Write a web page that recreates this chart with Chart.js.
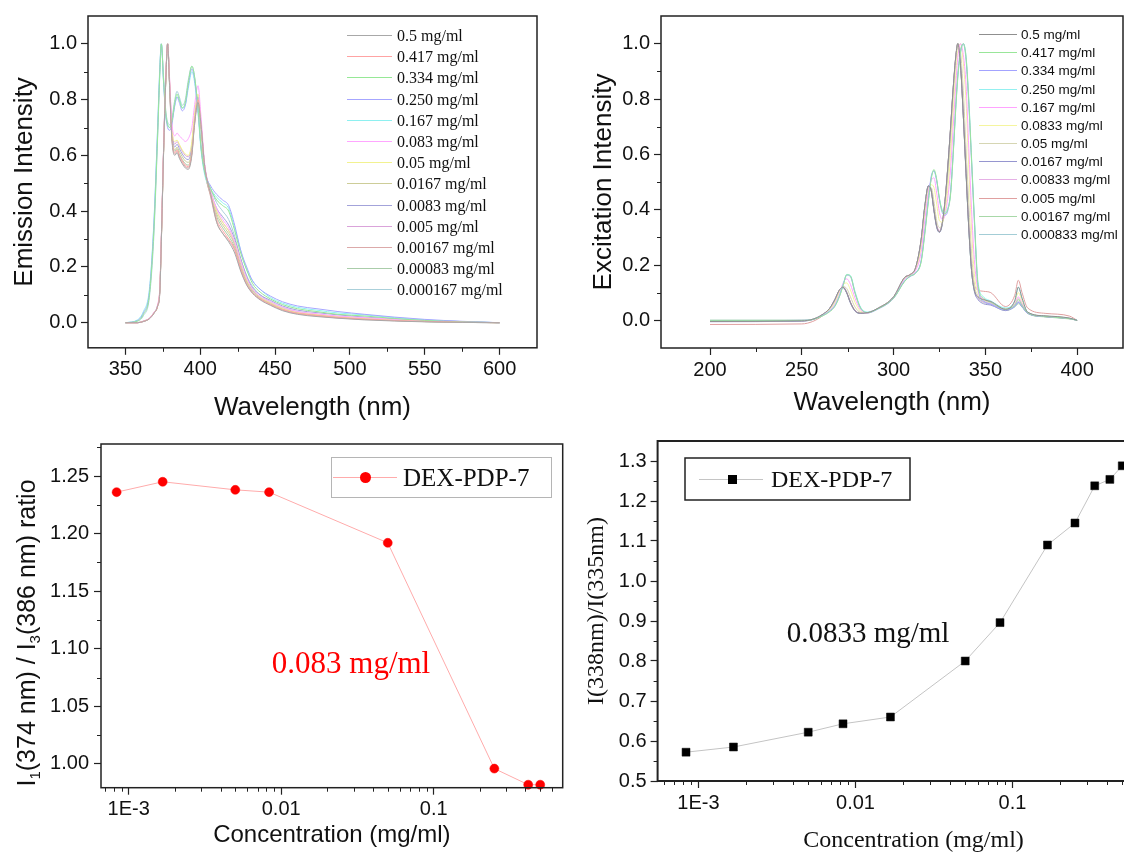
<!DOCTYPE html>
<html>
<head>
<meta charset="utf-8">
<title>Pyrene probe spectra - DEX-PDP-7</title>
<script src="https://cdn.jsdelivr.net/npm/chart.js@4.4.1/dist/chart.umd.min.js"></script>
<style>
    html, body { margin: 0; padding: 0; background: #fff; }
    body { width: 1124px; height: 855px; overflow: hidden; position: relative; }
    canvas { position: absolute; }
</style>
</head>
<body>
<canvas id="emission-chart" width="560" height="430" style="left:0;top:0"></canvas>
<canvas id="excitation-chart" width="564" height="430" style="left:560px;top:0"></canvas>
<canvas id="i1i3-chart" width="575" height="430" style="left:0;top:425px"></canvas>
<canvas id="exratio-chart" width="605" height="440" style="left:575px;top:425px"></canvas>
<script>
const SANS = '"Liberation Sans", Arial, sans-serif';
const SERIF = '"Liberation Serif", "Times New Roman", serif';
const INK = '#111';

// ---------- emission spectra (top left) ----------
const emWl = [350, 358, 362, 366, 369, 371.5, 373, 374, 375.5, 377, 378.2, 379.5, 381, 383, 384.5, 386, 388, 390, 392, 394.4,
              396, 398.5, 400.5, 403, 407, 411, 415, 419, 423, 427, 431, 435, 440, 447, 455, 465, 478, 492, 510, 530, 550, 575, 600];
const emLabels = ['0.5 mg/ml', '0.417 mg/ml', '0.334 mg/ml', '0.250 mg/ml', '0.167 mg/ml', '0.083 mg/ml', '0.05 mg/ml',
                  '0.0167 mg/ml', '0.0083 mg/ml', '0.005 mg/ml', '0.00167 mg/ml', '0.00083 mg/ml', '0.000167 mg/ml'];
const em_0_5 = [0, 0, 0.004, 0.014, 0.033, 0.06, 0.11, 0.29, 0.61, 0.87, 1.00, 0.85, 0.66, 0.60, 0.61, 0.59, 0.57, 0.555, 0.55, 0.60,
                0.70, 0.79, 0.71, 0.56, 0.46, 0.36, 0.32, 0.29, 0.25, 0.185, 0.135, 0.105, 0.082, 0.062, 0.043, 0.03, 0.022, 0.016, 0.01, 0.006, 0.003, 0.001, 0];
const em_0_417 = [0, 0, 0.005, 0.015, 0.035, 0.06, 0.12, 0.30, 0.62, 0.88, 1.00, 0.86, 0.67, 0.61, 0.62, 0.60, 0.58, 0.565, 0.56, 0.61,
                  0.71, 0.80, 0.71, 0.56, 0.46, 0.37, 0.33, 0.30, 0.265, 0.195, 0.14, 0.108, 0.086, 0.066, 0.047, 0.034, 0.026, 0.019, 0.013, 0.008, 0.005, 0.002, 0];
const em_0_334 = [0, 0.006, 0.03, 0.10, 0.33, 0.67, 0.90, 1.00, 0.87, 0.75, 0.71, 0.70, 0.72, 0.79, 0.82, 0.80, 0.77, 0.79, 0.86, 0.92,
                  0.89, 0.77, 0.63, 0.54, 0.48, 0.44, 0.42, 0.40, 0.33, 0.25, 0.19, 0.14, 0.11, 0.085, 0.065, 0.05, 0.04, 0.03, 0.024, 0.015, 0.008, 0.003, 0];
const em_0_250 = [0, 0.008, 0.035, 0.11, 0.35, 0.69, 0.91, 1.00, 0.86, 0.74, 0.70, 0.69, 0.71, 0.78, 0.81, 0.79, 0.76, 0.78, 0.85, 0.91,
                  0.88, 0.76, 0.63, 0.54, 0.49, 0.46, 0.44, 0.42, 0.35, 0.26, 0.20, 0.15, 0.12, 0.095, 0.075, 0.06, 0.05, 0.04, 0.03, 0.02, 0.012, 0.005, 0];
const em_0_167 = [0, 0.01, 0.04, 0.12, 0.36, 0.70, 0.92, 1.00, 0.86, 0.74, 0.71, 0.70, 0.72, 0.78, 0.81, 0.80, 0.77, 0.78, 0.84, 0.90,
                  0.87, 0.75, 0.62, 0.53, 0.48, 0.45, 0.43, 0.41, 0.34, 0.26, 0.19, 0.15, 0.12, 0.09, 0.07, 0.055, 0.045, 0.035, 0.028, 0.018, 0.01, 0.004, 0];
const em_0_083 = [0, 0, 0.005, 0.016, 0.036, 0.065, 0.13, 0.31, 0.63, 0.89, 1.00, 0.88, 0.72, 0.67, 0.68, 0.67, 0.66, 0.65, 0.66, 0.70,
                  0.77, 0.85, 0.74, 0.57, 0.47, 0.41, 0.37, 0.34, 0.29, 0.22, 0.16, 0.12, 0.095, 0.075, 0.055, 0.04, 0.032, 0.024, 0.018, 0.012, 0.007, 0.003, 0];
const em_0_05 = [0, 0, 0.005, 0.015, 0.035, 0.062, 0.125, 0.30, 0.62, 0.88, 1.00, 0.87, 0.70, 0.65, 0.655, 0.64, 0.62, 0.605, 0.60, 0.65,
                 0.74, 0.82, 0.72, 0.56, 0.47, 0.40, 0.36, 0.33, 0.29, 0.22, 0.155, 0.12, 0.092, 0.072, 0.052, 0.038, 0.03, 0.022, 0.016, 0.01, 0.006, 0.002, 0];
const em_0_0167 = [0, 0, 0.005, 0.015, 0.034, 0.06, 0.12, 0.29, 0.61, 0.87, 1.00, 0.86, 0.68, 0.62, 0.63, 0.615, 0.595, 0.58, 0.575, 0.62,
                   0.72, 0.80, 0.70, 0.55, 0.46, 0.39, 0.35, 0.32, 0.28, 0.21, 0.15, 0.115, 0.09, 0.07, 0.05, 0.036, 0.028, 0.02, 0.015, 0.01, 0.006, 0.002, 0];
const em_0_0083 = [0, 0, 0.006, 0.016, 0.036, 0.062, 0.12, 0.30, 0.62, 0.88, 1.00, 0.86, 0.69, 0.63, 0.64, 0.625, 0.605, 0.59, 0.585, 0.63,
                   0.72, 0.81, 0.71, 0.56, 0.47, 0.41, 0.38, 0.35, 0.30, 0.23, 0.165, 0.125, 0.10, 0.08, 0.06, 0.045, 0.036, 0.028, 0.02, 0.014, 0.009, 0.004, 0];
const em_0_005 = [0, 0, 0.005, 0.015, 0.035, 0.06, 0.12, 0.30, 0.62, 0.88, 1.00, 0.87, 0.70, 0.64, 0.65, 0.635, 0.615, 0.60, 0.595, 0.64,
                  0.73, 0.81, 0.71, 0.56, 0.46, 0.40, 0.36, 0.33, 0.285, 0.215, 0.155, 0.118, 0.092, 0.072, 0.052, 0.038, 0.03, 0.022, 0.016, 0.01, 0.006, 0.002, 0];
const em_0_00167 = [0, 0, 0.004, 0.014, 0.033, 0.058, 0.11, 0.29, 0.61, 0.87, 1.00, 0.85, 0.665, 0.605, 0.615, 0.595, 0.575, 0.56, 0.555, 0.605,
                    0.70, 0.79, 0.70, 0.55, 0.45, 0.36, 0.32, 0.295, 0.26, 0.19, 0.138, 0.106, 0.084, 0.064, 0.045, 0.032, 0.024, 0.017, 0.012, 0.007, 0.004, 0.001, 0];
const em_0_00083 = [0, 0, 0.005, 0.015, 0.034, 0.06, 0.115, 0.295, 0.615, 0.875, 1.00, 0.855, 0.675, 0.615, 0.625, 0.605, 0.585, 0.57, 0.565, 0.615,
                    0.71, 0.795, 0.70, 0.55, 0.455, 0.38, 0.34, 0.31, 0.27, 0.20, 0.145, 0.11, 0.087, 0.067, 0.047, 0.033, 0.025, 0.018, 0.013, 0.008, 0.004, 0.001, 0];
const em_0_000167 = [0, 0.005, 0.025, 0.09, 0.31, 0.66, 0.89, 1.00, 0.88, 0.76, 0.72, 0.71, 0.73, 0.80, 0.83, 0.81, 0.78, 0.80, 0.87, 0.92,
                     0.89, 0.77, 0.64, 0.55, 0.48, 0.43, 0.40, 0.37, 0.31, 0.23, 0.17, 0.13, 0.10, 0.075, 0.055, 0.04, 0.03, 0.02, 0.015, 0.008, 0.004, 0.001, 0];
const emSeries = [em_0_5, em_0_417, em_0_334, em_0_250, em_0_167, em_0_083, em_0_05,
                  em_0_0167, em_0_0083, em_0_005, em_0_00167, em_0_00083, em_0_000167];
const emColors = ['#a8a8a8', '#ffa3a3', '#96e896', '#a6a6ff', '#8ef0f0', '#ffa6ff', '#f2f290',
                  '#cdcd98', '#a3a3da', '#daa3da', '#dcaaaa', '#aacdaa', '#aad0da'];
const emXTicks = [350, 400, 450, 500, 550, 600];
const emXMinor = [375, 425, 475, 525, 575];

// ---------- excitation spectra (top right) ----------
const exWl = [200, 250, 256, 261, 265, 268, 270.5, 272.5, 274.5, 276.5, 279, 282, 286, 291, 300, 306, 309, 312, 315, 317,
              319, 320.5, 322, 323.5, 325, 326.5, 328, 329.5, 331, 332.5, 334, 335, 336.5, 338, 339.5, 341, 342.5, 344, 346, 349,
              353, 361, 366, 368, 370, 373, 383, 396, 400];
const exLabels = ['0.5 mg/ml', '0.417 mg/ml', '0.334 mg/ml', '0.250 mg/ml', '0.167 mg/ml', '0.0833 mg/ml',
                  '0.05 mg/ml', '0.0167 mg/ml', '0.00833 mg/ml', '0.005 mg/ml', '0.00167 mg/ml', '0.000833 mg/ml'];
const ex_0_5 = [-0.004, -0.002, 0.004, 0.02, 0.042, 0.075, 0.11, 0.12, 0.10, 0.065, 0.035, 0.026, 0.028, 0.042, 0.085, 0.155, 0.165, 0.19, 0.29, 0.41,
                0.485, 0.47, 0.40, 0.34, 0.32, 0.35, 0.43, 0.55, 0.69, 0.84, 0.96, 1.0, 0.92, 0.74, 0.53, 0.33, 0.18, 0.11, 0.085, 0.075,
                0.068, 0.04, 0.07, 0.12, 0.08, 0.03, 0.016, 0.008, 0];
const ex_0_417 = [0, 0, 0.003, 0.015, 0.03, 0.05, 0.085, 0.125, 0.165, 0.16, 0.10, 0.045, 0.028, 0.04, 0.08, 0.14, 0.16, 0.17, 0.21, 0.31,
                  0.43, 0.51, 0.545, 0.51, 0.44, 0.395, 0.385, 0.40, 0.45, 0.60, 0.78, 0.88, 0.97, 1.0, 0.95, 0.79, 0.58, 0.37, 0.13, 0.08,
                  0.065, 0.04, 0.055, 0.075, 0.055, 0.028, 0.014, 0.006, 0];
const ex_0_334 = [-0.002, 0, 0.003, 0.016, 0.032, 0.052, 0.087, 0.127, 0.163, 0.158, 0.098, 0.044, 0.027, 0.039, 0.079, 0.142, 0.158, 0.172, 0.215, 0.32,
                  0.44, 0.52, 0.54, 0.505, 0.435, 0.39, 0.38, 0.395, 0.46, 0.61, 0.79, 0.89, 0.975, 1.0, 0.94, 0.78, 0.57, 0.36, 0.12, 0.07,
                  0.058, 0.038, 0.05, 0.065, 0.05, 0.026, 0.014, 0.006, 0];
const ex_0_250 = [0, 0, 0.004, 0.017, 0.033, 0.054, 0.09, 0.13, 0.166, 0.162, 0.105, 0.048, 0.03, 0.041, 0.081, 0.143, 0.16, 0.171, 0.212, 0.315,
                  0.435, 0.515, 0.54, 0.505, 0.44, 0.40, 0.39, 0.405, 0.455, 0.60, 0.775, 0.875, 0.965, 1.0, 0.955, 0.80, 0.59, 0.38, 0.14, 0.085,
                  0.07, 0.045, 0.07, 0.12, 0.08, 0.03, 0.015, 0.007, 0];
const ex_0_167 = [0, 0, 0.004, 0.017, 0.034, 0.058, 0.095, 0.135, 0.15, 0.13, 0.08, 0.038, 0.027, 0.041, 0.082, 0.148, 0.162, 0.18, 0.245, 0.36,
                  0.465, 0.505, 0.515, 0.46, 0.39, 0.365, 0.38, 0.44, 0.54, 0.70, 0.86, 0.95, 1.0, 0.96, 0.85, 0.62, 0.40, 0.22, 0.11, 0.078,
                  0.065, 0.04, 0.06, 0.085, 0.06, 0.03, 0.015, 0.007, 0];
const ex_0_0833 = [0, 0, 0.004, 0.018, 0.036, 0.062, 0.10, 0.13, 0.135, 0.11, 0.065, 0.033, 0.027, 0.041, 0.083, 0.15, 0.163, 0.183, 0.26, 0.38,
                   0.47, 0.49, 0.48, 0.42, 0.36, 0.355, 0.39, 0.47, 0.59, 0.75, 0.90, 0.97, 1.0, 0.93, 0.79, 0.55, 0.33, 0.17, 0.10, 0.076,
                   0.066, 0.042, 0.065, 0.10, 0.07, 0.03, 0.015, 0.007, 0];
const ex_0_05 = [-0.003, 0, 0.004, 0.019, 0.039, 0.068, 0.105, 0.122, 0.115, 0.085, 0.048, 0.029, 0.027, 0.042, 0.084, 0.152, 0.164, 0.187, 0.275, 0.395,
                 0.478, 0.48, 0.43, 0.36, 0.335, 0.35, 0.41, 0.51, 0.64, 0.80, 0.94, 1.0, 0.97, 0.83, 0.62, 0.42, 0.24, 0.13, 0.09, 0.072,
                 0.064, 0.04, 0.06, 0.08, 0.06, 0.029, 0.015, 0.007, 0];
const ex_0_0167 = [-0.005, -0.003, 0.003, 0.019, 0.041, 0.074, 0.108, 0.118, 0.098, 0.062, 0.033, 0.025, 0.027, 0.041, 0.084, 0.153, 0.163, 0.188, 0.288, 0.41,
                   0.487, 0.468, 0.395, 0.335, 0.318, 0.345, 0.425, 0.545, 0.685, 0.835, 0.955, 1.0, 0.925, 0.745, 0.535, 0.335, 0.18, 0.105, 0.075, 0.06,
                   0.055, 0.035, 0.05, 0.065, 0.05, 0.026, 0.013, 0.006, 0];
const ex_0_00833 = [-0.004, -0.002, 0.004, 0.02, 0.042, 0.076, 0.11, 0.121, 0.102, 0.066, 0.036, 0.026, 0.028, 0.042, 0.085, 0.154, 0.165, 0.19, 0.285, 0.405,
                    0.482, 0.47, 0.405, 0.345, 0.325, 0.35, 0.425, 0.545, 0.68, 0.83, 0.955, 1.0, 0.93, 0.75, 0.54, 0.34, 0.19, 0.115, 0.08, 0.066,
                    0.06, 0.038, 0.055, 0.07, 0.055, 0.028, 0.014, 0.007, 0];
const ex_0_005 = [-0.015, -0.013, -0.004, 0.015, 0.04, 0.074, 0.108, 0.12, 0.10, 0.066, 0.036, 0.026, 0.028, 0.042, 0.085, 0.155, 0.166, 0.19, 0.29, 0.41,
                  0.486, 0.472, 0.40, 0.34, 0.32, 0.35, 0.43, 0.55, 0.69, 0.84, 0.96, 1.0, 0.92, 0.74, 0.54, 0.35, 0.2, 0.13, 0.11, 0.105,
                  0.10, 0.05, 0.09, 0.145, 0.10, 0.045, 0.025, 0.015, 0];
const ex_0_00167 = [-0.004, -0.002, 0.003, 0.019, 0.041, 0.074, 0.109, 0.119, 0.099, 0.064, 0.034, 0.025, 0.027, 0.041, 0.084, 0.154, 0.164, 0.189, 0.29, 0.412,
                    0.486, 0.469, 0.398, 0.338, 0.319, 0.348, 0.428, 0.548, 0.688, 0.838, 0.958, 1.0, 0.922, 0.742, 0.532, 0.332, 0.18, 0.108, 0.08, 0.065,
                    0.058, 0.036, 0.048, 0.06, 0.048, 0.025, 0.012, 0.005, 0];
const ex_0_000833 = [0, 0, 0.004, 0.02, 0.042, 0.075, 0.11, 0.12, 0.10, 0.065, 0.035, 0.026, 0.028, 0.042, 0.085, 0.155, 0.165, 0.19, 0.29, 0.41,
                     0.485, 0.47, 0.40, 0.34, 0.32, 0.35, 0.43, 0.55, 0.69, 0.84, 0.96, 1.0, 0.92, 0.74, 0.53, 0.33, 0.18, 0.11, 0.082, 0.068,
                     0.06, 0.038, 0.052, 0.065, 0.052, 0.026, 0.013, 0.006, 0];
const exSeries = [ex_0_5, ex_0_417, ex_0_334, ex_0_250, ex_0_167, ex_0_0833,
                  ex_0_05, ex_0_0167, ex_0_00833, ex_0_005, ex_0_00167, ex_0_000833];
const exColors = ['#8f8f8f', '#99e699', '#a3a3ff', '#94f0f0', '#ffa3ff', '#f5f59e',
                  '#d6d6b3', '#9696d0', '#e6b0e6', '#e0a0a0', '#a8d8a8', '#a3cdd6'];
const exXTicks = [200, 250, 300, 350, 400];
const exXMinor = [225, 275, 325, 375];

const specYTicks = [0, 0.2, 0.4, 0.6, 0.8, 1.0];
const specYMinor = [0.1, 0.3, 0.5, 0.7, 0.9];

// ---------- I1/I3 ratio (bottom left) ----------
const i1i3Conc = [0.000833, 0.00167, 0.005, 0.00833, 0.05, 0.25, 0.417, 0.5];
const i1i3Ratio = [1.236, 1.245, 1.238, 1.236, 1.192, 0.996, 0.982, 0.982];
const i1i3YTicks = [1.00, 1.05, 1.10, 1.15, 1.20, 1.25];
const i1i3YMinor = [1.025, 1.075, 1.125, 1.175, 1.225, 1.275];

// ---------- I338/I335 ratio (bottom right) ----------
const exRatioConc = [0.000833, 0.00167, 0.005, 0.00833, 0.0167, 0.05, 0.0833, 0.167, 0.25, 0.334, 0.417, 0.5];
const exRatio = [0.572, 0.585, 0.622, 0.643, 0.660, 0.800, 0.896, 1.090, 1.145, 1.238, 1.254, 1.288];
const exRatioYTicks = [0.5, 0.6, 0.7, 0.8, 0.9, 1.0, 1.1, 1.2, 1.3];
const exRatioYMinor = [0.55, 0.65, 0.75, 0.85, 0.95, 1.05, 1.15, 1.25];

const concTicks = [0.001, 0.01, 0.1];
const concTickLabels = ['1E-3', '0.01', '0.1'];
const concMinor = [0.0006, 0.0007, 0.0008, 0.0009, 0.002, 0.003, 0.004, 0.005, 0.006, 0.007, 0.008, 0.009,
                   0.02, 0.03, 0.04, 0.05, 0.06, 0.07, 0.08, 0.09, 0.2, 0.3, 0.4, 0.5, 0.6, 0.7, 0.8, 0.9];

// ---------- helpers ----------
function valueAxis(o) {
    return {
        type: o.type || 'linear',
        position: o.position,
        min: o.min,
        max: o.max,
        afterBuildTicks: s => { s.ticks = o.ticks.map(v => ({ value: v })); },
        afterFit: s => {
            if (o.position === 'left') s.width = o.size; else s.height = o.size;
        },
        border: { display: false },
        grid: { drawOnChartArea: false, drawTicks: true, tickLength: 7, tickColor: '#222', tickWidth: 1.2 },
        ticks: {
            color: INK,
            font: { family: SANS, size: 20 },
            padding: o.padding || 3,
            maxRotation: 0,
            autoSkip: false,
            callback: o.labels ? (v, i) => o.labels[i] : v => v.toFixed(o.digits || 0)
        },
        title: o.title ? {
            display: true,
            text: o.title,
            color: INK,
            font: { family: o.titleFamily || SANS, size: o.titleSize || 26 },
            padding: o.titlePad
        } : { display: false }
    };
}

// frame, minor ticks and anything extra drawn over the plot
function decor(cfg) {
    return {
        id: 'decor',
        afterDraw(chart) {
            const { ctx, chartArea: a, scales } = chart;
            ctx.save();
            ctx.strokeStyle = '#222';
            ctx.lineWidth = 1;
            (cfg.xMinor || []).forEach(v => {
                const px = Math.round(scales.x.getPixelForValue(v)) + 0.5;
                if (px < a.left || px > a.right) return;
                ctx.beginPath();
                ctx.moveTo(px, a.bottom);
                ctx.lineTo(px, a.bottom + 4);
                ctx.stroke();
            });
            (cfg.yMinor || []).forEach(v => {
                const py = Math.round(scales.y.getPixelForValue(v)) + 0.5;
                ctx.beginPath();
                ctx.moveTo(a.left, py);
                ctx.lineTo(a.left - 4, py);
                ctx.stroke();
            });
            ctx.strokeStyle = cfg.frameColor || '#222';
            ctx.lineWidth = cfg.frame || 1.5;
            ctx.strokeRect(a.left, a.top, a.right - a.left, a.bottom - a.top);
            if (cfg.draw) cfg.draw(ctx, chart);
            ctx.restore();
        }
    };
}

// stacked key of all spectra, one line sample per dataset
function lineKey(k) {
    return (ctx, chart) => {
        ctx.font = k.font;
        ctx.textBaseline = 'middle';
        ctx.textAlign = 'left';
        chart.data.datasets.forEach((ds, i) => {
            const y = Math.round(k.y0 + i * k.dy) + 0.5;
            ctx.strokeStyle = ds.borderColor;
            ctx.lineWidth = 1;
            ctx.beginPath();
            ctx.moveTo(k.x0, y);
            ctx.lineTo(k.x1, y);
            ctx.stroke();
            ctx.fillStyle = INK;
            ctx.fillText(ds.label, k.tx, y + 1);
        });
    };
}

function spectrumDatasets(wl, series, labels, colors) {
    return series.map((ys, i) => ({
        label: labels[i],
        data: ys.map((y, j) => ({ x: wl[j], y: y })),
        borderColor: colors[i],
        borderWidth: 1,
        pointRadius: 0,
        fill: false,
        cubicInterpolationMode: 'monotone'
    }));
}

const baseOptions = {
    responsive: false,
    animation: false,
    devicePixelRatio: 1,
    events: [],
    plugins: { legend: { display: false }, tooltip: { enabled: false } }
};

// ---------- emission ----------
new Chart(document.getElementById('emission-chart').getContext('2d'), {
    type: 'line',
    data: { datasets: spectrumDatasets(emWl, emSeries, emLabels, emColors) },
    options: {
        ...baseOptions,
        layout: { padding: { top: 16, right: 23, left: 0, bottom: 0 } },
        scales: {
            x: valueAxis({ position: 'bottom', min: 325, max: 625, ticks: emXTicks, size: 82.2,
                           title: 'Wavelength (nm)', titlePad: { top: 0, bottom: 6.4 } }),
            y: valueAxis({ position: 'left', min: -0.09, max: 1.1, ticks: specYTicks, digits: 1, size: 88, padding: 4,
                           title: 'Emission Intensity', titlePad: { top: 9.4, bottom: 0 } })
        }
    },
    plugins: [decor({
        xMinor: emXMinor, yMinor: specYMinor,
        draw: lineKey({ x0: 347, x1: 392, tx: 397, y0: 35, dy: 21.2, font: '16px ' + SERIF })
    })]
});

// ---------- excitation ----------
new Chart(document.getElementById('excitation-chart').getContext('2d'), {
    type: 'line',
    data: { datasets: spectrumDatasets(exWl, exSeries, exLabels, exColors) },
    options: {
        ...baseOptions,
        layout: { padding: { top: 14, right: 1, left: 0, bottom: 0 } },
        scales: {
            x: valueAxis({ position: 'bottom', min: 173.3, max: 425, ticks: exXTicks, size: 82,
                           title: 'Wavelength (nm)', titlePad: { top: 0, bottom: 11.4 } }),
            y: valueAxis({ position: 'left', min: -0.1, max: 1.1, ticks: specYTicks, digits: 1, size: 101, padding: 4,
                           title: 'Excitation Intensity', titlePad: { top: 28.4, bottom: 0 } })
        }
    },
    plugins: [decor({
        xMinor: exXMinor, yMinor: specYMinor,
        draw: lineKey({ x0: 419, x1: 457, tx: 461, y0: 34, dy: 18.18, font: '13.5px ' + SANS })
    })]
});

// ---------- I1/I3 ----------
new Chart(document.getElementById('i1i3-chart').getContext('2d'), {
    type: 'line',
    data: {
        datasets: [{
            label: 'DEX-PDP-7',
            data: i1i3Conc.map((c, i) => ({ x: c, y: i1i3Ratio[i] })),
            borderColor: '#ffabab',
            borderWidth: 1,
            pointRadius: 4.5,
            pointBackgroundColor: '#ff0000',
            pointBorderColor: '#ff0000',
            pointBorderWidth: 0.5,
            clip: false
        }]
    },
    options: {
        ...baseOptions,
        layout: { padding: { top: 19, right: 12.3, left: 0, bottom: 0 } },
        scales: {
            x: valueAxis({ type: 'logarithmic', position: 'bottom', min: 0.000658, max: 0.702, ticks: concTicks,
                           labels: concTickLabels, size: 67.3, title: 'Concentration (mg/ml)', titleSize: 24,
                           titlePad: { top: 0, bottom: 5.6 } }),
            y: valueAxis({ position: 'left', min: 0.9794, max: 1.2778, ticks: i1i3YTicks, digits: 2, size: 101, padding: 5 })
        }
    },
    plugins: [decor({
        xMinor: concMinor, yMinor: i1i3YMinor,
        draw: (ctx, chart) => {
            // legend box
            ctx.strokeStyle = '#b5b5b5';
            ctx.lineWidth = 1;
            ctx.strokeRect(331.5, 32.5, 220, 40);
            ctx.strokeStyle = '#ffabab';
            ctx.beginPath(); ctx.moveTo(333, 52.5); ctx.lineTo(397, 52.5); ctx.stroke();
            ctx.fillStyle = '#ff0000';
            ctx.beginPath(); ctx.arc(365.5, 52.5, 5.5, 0, Math.PI * 2); ctx.fill();
            ctx.fillStyle = INK;
            ctx.font = '25px ' + SERIF;
            ctx.textBaseline = 'middle';
            ctx.textAlign = 'left';
            ctx.fillText(chart.data.datasets[0].label, 403, 54);
            // critical concentration note
            ctx.fillStyle = '#ff0000';
            ctx.font = '31px ' + SERIF;
            ctx.textAlign = 'center';
            ctx.fillText('0.083 mg/ml', 351, 240);
            // y title with subscripts
            const parts = [['I', 0], ['1', 1], ['(374 nm) / I', 0], ['3', 1], ['(386 nm) ratio', 0]];
            ctx.save();
            ctx.translate(25.5, 208);
            ctx.rotate(-Math.PI / 2);
            ctx.fillStyle = INK;
            ctx.textAlign = 'left';
            ctx.textBaseline = 'alphabetic';
            let total = 0;
            parts.forEach(p => { ctx.font = (p[1] ? 15 : 25) + 'px ' + SANS; total += ctx.measureText(p[0]).width; });
            let x = -total / 2;
            parts.forEach(p => {
                ctx.font = (p[1] ? 15 : 25) + 'px ' + SANS;
                ctx.fillText(p[0], x, p[1] ? 14 : 9);
                x += ctx.measureText(p[0]).width;
            });
            ctx.restore();
        }
    })]
});

// ---------- I338/I335 ----------
new Chart(document.getElementById('exratio-chart').getContext('2d'), {
    type: 'line',
    data: {
        datasets: [{
            label: 'DEX-PDP-7',
            data: exRatioConc.map((c, i) => ({ x: c, y: exRatio[i] })),
            borderColor: '#c4c4c4',
            borderWidth: 1,
            pointStyle: 'rect',
            pointRadius: 5.6,
            pointBackgroundColor: '#000',
            pointBorderColor: '#000',
            pointBorderWidth: 0.5,
            clip: false
        }]
    },
    options: {
        ...baseOptions,
        layout: { padding: { top: 16, right: 10.5, left: 0, bottom: 0 } },
        scales: {
            x: valueAxis({ type: 'logarithmic', position: 'bottom', min: 0.000549, max: 1, ticks: concTicks,
                           labels: concTickLabels, size: 84, title: 'Concentration (mg/ml)', titleSize: 24,
                           titleFamily: SERIF, titlePad: { top: 0, bottom: 9.6 } }),
            y: valueAxis({ position: 'left', min: 0.5, max: 1.35, ticks: exRatioYTicks, digits: 1, size: 82.6, padding: 4,
                           title: 'I(338nm)/I(335nm)', titleSize: 24, titleFamily: SERIF, titlePad: { top: 7.1, bottom: 0 } })
        }
    },
    plugins: [decor({
        xMinor: concMinor, yMinor: exRatioYMinor, frame: 2,
        draw: (ctx, chart) => {
            ctx.strokeStyle = '#222';
            ctx.lineWidth = 1.5;
            ctx.strokeRect(110, 33, 225, 42);
            ctx.strokeStyle = '#c4c4c4';
            ctx.lineWidth = 1;
            ctx.beginPath(); ctx.moveTo(124, 54.5); ctx.lineTo(188, 54.5); ctx.stroke();
            ctx.fillStyle = '#000';
            ctx.fillRect(153, 50, 9, 9);
            ctx.fillStyle = INK;
            ctx.font = '24px ' + SERIF;
            ctx.textBaseline = 'middle';
            ctx.textAlign = 'left';
            ctx.fillText(chart.data.datasets[0].label, 196, 56);
            ctx.font = '29px ' + SERIF;
            ctx.textAlign = 'center';
            ctx.fillText('0.0833 mg/ml', 293, 209);
        }
    })]
});
</script>
</body>
</html>
